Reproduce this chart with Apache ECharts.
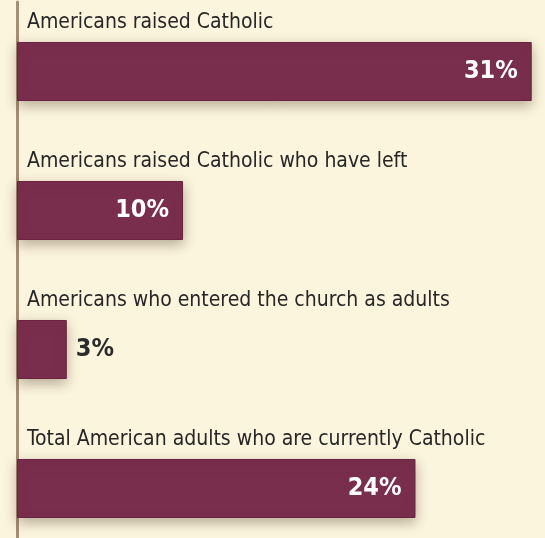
<!DOCTYPE html>
<html>
<head>
<meta charset="utf-8">
<script src="https://cdn.jsdelivr.net/npm/echarts@6/dist/echarts.min.js"></script>
<style>
  html, body { margin: 0; padding: 0; background: #fcf5de; }
  #chart { width: 545px; height: 538px; }
</style>
</head>
<body>
<div id="chart"></div>
<script>
// data
const categories = [
  "Americans raised Catholic",
  "Americans raised Catholic who have left",
  "Americans who entered the church as adults",
  "Total American adults who are currently Catholic"
];
const shares = [31, 10, 3, 24];

const font = "'DejaVu Sans Condensed', 'Liberation Sans Narrow', sans-serif";
const chart = echarts.init(document.getElementById("chart"));

let option = {
  backgroundColor: "#fcf5de",
  animation: false,
  // grid taller than the window so the last band ends below it
  grid: { left: 17, right: 0, top: 2, height: 556, outerBoundsMode: "none", containLabel: false },
  xAxis: {
    type: "value",
    min: 0,
    max: 31.8,
    show: false
  },
  yAxis: {
    type: "category",
    inverse: true,
    data: categories,
    axisLine: { show: true, lineStyle: { color: "#a48e74", width: 3 } },
    axisTick: { show: false },
    axisLabel: {
      inside: true,
      margin: 10,
      align: "left",
      verticalAlign: "bottom",
      padding: [0, 0, 38, 0],
      color: "#262626",
      fontFamily: font,
      fontSize: 21
    }
  },
  series: [
    {
      type: "bar",
      barWidth: 59,
      data: shares.map(function (v) {
        // small bar: label sits outside in dark text
        if (v < 5) {
          return { value: v, label: { position: "right", color: "#2b2b2b", distance: 9 } };
        }
        return v;
      }),
      itemStyle: {
        color: "#7a2e4d",
        borderColor: "#6a2341",
        borderWidth: 1,
        shadowColor: "rgba(60, 40, 20, 0.35)",
        shadowBlur: 12,
        shadowOffsetY: 4
      },
      label: {
        show: true,
        position: "insideRight",
        distance: 14,
        color: "#ffffff",
        fontFamily: font,
        fontSize: 25,
        fontWeight: "bold",
        formatter: "{c}%"
      }
    }
  ]
};
chart.setOption(option);
</script>
</body>
</html>
